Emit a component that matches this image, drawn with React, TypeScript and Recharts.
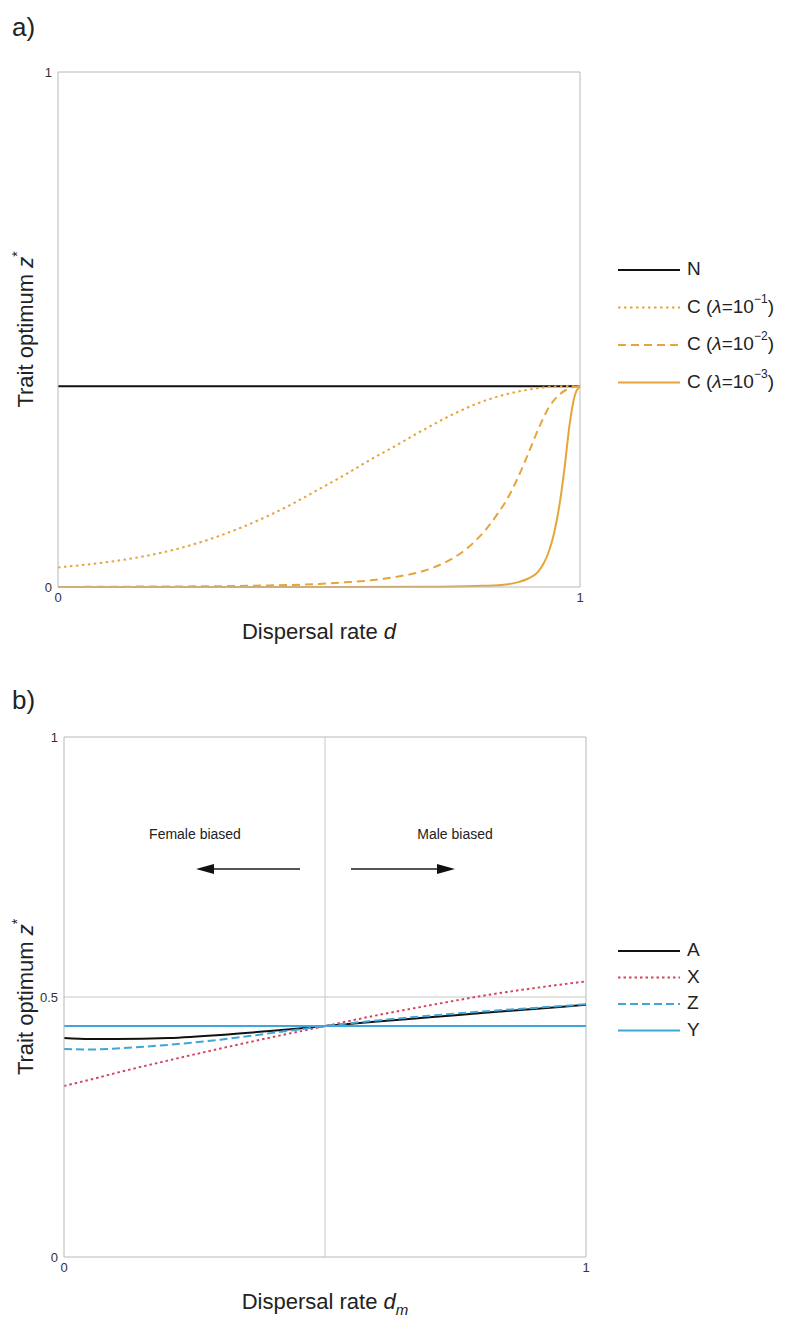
import React from "react";
import { LineChart, Line, XAxis, YAxis, ReferenceLine } from "recharts";

// ---- panel a) data: trait optimum vs dispersal rate d ----
const nD = [0, 1];
const nZ = [0.39, 0.39];

const c1D = [0, 0.05, 0.1, 0.15, 0.2, 0.25, 0.3, 0.35, 0.4, 0.45, 0.5, 0.55, 0.6, 0.65, 0.7, 0.75, 0.8, 0.85, 0.9, 0.95, 1];
const c1Z = [0.038, 0.043, 0.049, 0.057, 0.067, 0.08, 0.096, 0.115, 0.137, 0.162, 0.19, 0.218, 0.248, 0.276, 0.305, 0.332, 0.355, 0.372, 0.383, 0.389, 0.39];

const c2D = [0, 0.1, 0.2, 0.3, 0.4, 0.5, 0.55, 0.6, 0.65, 0.7, 0.72, 0.74, 0.76, 0.78, 0.8, 0.82, 0.84, 0.86, 0.88, 0.9, 0.92, 0.94, 0.96, 0.98, 1];
const c2Z = [0, 0.0005, 0.001, 0.0015, 0.003, 0.006, 0.009, 0.013, 0.02, 0.031, 0.038, 0.047, 0.058, 0.072, 0.09, 0.112, 0.139, 0.17, 0.21, 0.257, 0.306, 0.348, 0.373, 0.386, 0.39];

const c3D = [0, 0.5, 0.7, 0.8, 0.85, 0.88, 0.9, 0.92, 0.93, 0.94, 0.95, 0.96, 0.97, 0.98, 0.99, 1];
const c3Z = [0, 0, 0.0005, 0.002, 0.004, 0.009, 0.016, 0.03, 0.045, 0.068, 0.103, 0.155, 0.228, 0.315, 0.372, 0.39];

// ---- panel b) data: trait optimum vs male dispersal rate d_m ----
const dm = [0, 0.05, 0.1, 0.2, 0.3, 0.4, 0.5, 0.6, 0.7, 0.8, 0.9, 1];
const aZ = [0.421, 0.419, 0.419, 0.421, 0.427, 0.435, 0.444, 0.453, 0.461, 0.469, 0.477, 0.485];
const xZ = [0.329, 0.341, 0.354, 0.378, 0.401, 0.423, 0.444, 0.465, 0.484, 0.502, 0.517, 0.53];
const zZ = [0.4, 0.399, 0.401, 0.408, 0.418, 0.431, 0.444, 0.455, 0.464, 0.472, 0.479, 0.486];
const yZ = [0.444, 0.444, 0.444, 0.444, 0.444, 0.444, 0.444, 0.444, 0.444, 0.444, 0.444, 0.444];

const pts = (xs: number[], ys: number[]) => xs.map((x, i) => ({ x, z: ys[i] }));

const GOLD = "#E6A53A";
const RED = "#D3455F";
const BLUE = "#3EA6DA";
const BOX = "#b8b8b8";
const FONT = "Liberation Sans, Arial, sans-serif";

const seriesA = [
  { name: "N", data: pts(nD, nZ), color: "#111", dash: undefined as string | undefined, lam: "" },
  { name: "C", data: pts(c1D, c1Z), color: GOLD, dash: "2.5 3.5", lam: "1" },
  { name: "C", data: pts(c2D, c2Z), color: GOLD, dash: "8 5", lam: "2" },
  { name: "C", data: pts(c3D, c3Z), color: GOLD, dash: undefined, lam: "3" },
];

const seriesB = [
  { name: "A", data: pts(dm, aZ), color: "#111", dash: undefined as string | undefined },
  { name: "X", data: pts(dm, xZ), color: RED, dash: "2.5 3" },
  { name: "Z", data: pts(dm, zZ), color: BLUE, dash: "8 4" },
  { name: "Y", data: pts(dm, yZ), color: BLUE, dash: undefined },
];

const tickStyle = { fontSize: 13, fill: "#333", fontFamily: FONT };

const yTitle = (props: any) => {
  const vb = props.viewBox;
  const cx = 27;
  const cy = vb.y + vb.height / 2;
  return (
    <text x={cx} y={cy} transform={`rotate(-90 ${cx} ${cy})`} textAnchor="middle" fontSize={22} fill="#222" fontFamily={FONT} dominantBaseline="middle">
      Trait optimum <tspan fontStyle="italic">z</tspan>
      <tspan fontSize={14} dy={-9}>*</tspan>
    </text>
  );
};

const xTitle = (sub: boolean) => (props: any) => {
  const vb = props.viewBox;
  return (
    <text x={vb.x + vb.width / 2} y={vb.y + 52} textAnchor="middle" fontSize={22} fill="#222" fontFamily={FONT}>
      Dispersal rate <tspan fontStyle="italic">d</tspan>
      {sub ? <tspan fontStyle="italic" fontSize={15} dy={6}>m</tspan> : null}
    </text>
  );
};

export default function App() {
  return (
    <div style={{ position: "absolute", left: 0, top: 0, width: 800, height: 1318, background: "#fff" }}>
      {/* panel a */}
      <div style={{ position: "absolute", left: 0, top: 0 }}>
        <LineChart width={800} height={660} margin={{ top: 72, right: 220, left: 28, bottom: 43 }}>
          <XAxis dataKey="x" type="number" domain={[0, 1]} ticks={[0, 1]} allowDuplicatedCategory={false} height={30} tickLine={false} tickSize={4} stroke={BOX} tick={tickStyle} label={{ content: xTitle(false) }} />
          <YAxis type="number" domain={[0, 1]} ticks={[0, 1]} width={30} tickLine={false} tickSize={4} stroke={BOX} tick={tickStyle} label={{ content: yTitle }} />
          <ReferenceLine y={1} stroke={BOX} />
          <ReferenceLine x={1} stroke={BOX} />
          {seriesA.map((s, i) => (
            <Line key={i} data={s.data} dataKey="z" type="monotone" stroke={s.color} strokeWidth={2} strokeDasharray={s.dash} dot={false} isAnimationActive={false} />
          ))}
        </LineChart>
      </div>

      {/* panel b */}
      <div style={{ position: "absolute", left: 0, top: 660 }}>
        <LineChart width={800} height={658} margin={{ top: 77, right: 214, left: 34, bottom: 31 }}>
          <XAxis dataKey="x" type="number" domain={[0, 1]} ticks={[0, 1]} allowDuplicatedCategory={false} height={30} tickLine={false} tickSize={4} stroke={BOX} tick={tickStyle} label={{ content: xTitle(true) }} />
          <YAxis type="number" domain={[0, 1]} ticks={[0, 0.5, 1]} width={30} tickLine={false} tickSize={4} stroke={BOX} tick={tickStyle} label={{ content: yTitle }} />
          <ReferenceLine y={1} stroke={BOX} />
          <ReferenceLine x={1} stroke={BOX} />
          <ReferenceLine y={0.5} stroke="#c8c8c8" />
          <ReferenceLine x={0.5} stroke="#c8c8c8" />
          {seriesB.map((s, i) => (
            <Line key={i} data={s.data} dataKey="z" type="monotone" stroke={s.color} strokeWidth={2} strokeDasharray={s.dash} dot={false} isAnimationActive={false} />
          ))}
        </LineChart>
      </div>

      {/* panel letters, legends, annotations */}
      <svg width={800} height={1318} style={{ position: "absolute", left: 0, top: 0, pointerEvents: "none" }} fontFamily={FONT}>
        <text x={12} y={36} fontSize={26} fill="#222">a)</text>
        <text x={12} y={709} fontSize={26} fill="#222">b)</text>

        {seriesA.map((s, i) => {
          const y = 270 + i * 37.5;
          return (
            <g key={i}>
              <line x1={618} x2={680} y1={y} y2={y} stroke={s.color} strokeWidth={2} strokeDasharray={s.dash} />
              <text x={687} y={y} fontSize={19} fill="#222" dominantBaseline="middle">
                {s.lam ? (
                  <>
                    C (<tspan fontStyle="italic">λ</tspan>=10<tspan fontSize={12} dy={-8}>−{s.lam}</tspan><tspan dy={8}>)</tspan>
                  </>
                ) : (
                  s.name
                )}
              </text>
            </g>
          );
        })}

        {seriesB.map((s, i) => {
          const y = 951 + i * 26.5;
          return (
            <g key={i}>
              <line x1={618} x2={680} y1={y} y2={y} stroke={s.color} strokeWidth={2} strokeDasharray={s.dash} />
              <text x={687} y={y} fontSize={19} fill="#222" dominantBaseline="middle">{s.name}</text>
            </g>
          );
        })}

        <text x={195} y={839} fontSize={14} fill="#222" textAnchor="middle">Female biased</text>
        <text x={455} y={839} fontSize={14} fill="#222" textAnchor="middle">Male biased</text>
        <line x1={300} x2={212} y1={869} y2={869} stroke="#555" strokeWidth={2} />
        <polygon points="196,869 214,864 214,874" fill="#111" />
        <line x1={351} x2={439} y1={869} y2={869} stroke="#555" strokeWidth={2} />
        <polygon points="455,869 437,864 437,874" fill="#111" />
      </svg>
    </div>
  );
}
